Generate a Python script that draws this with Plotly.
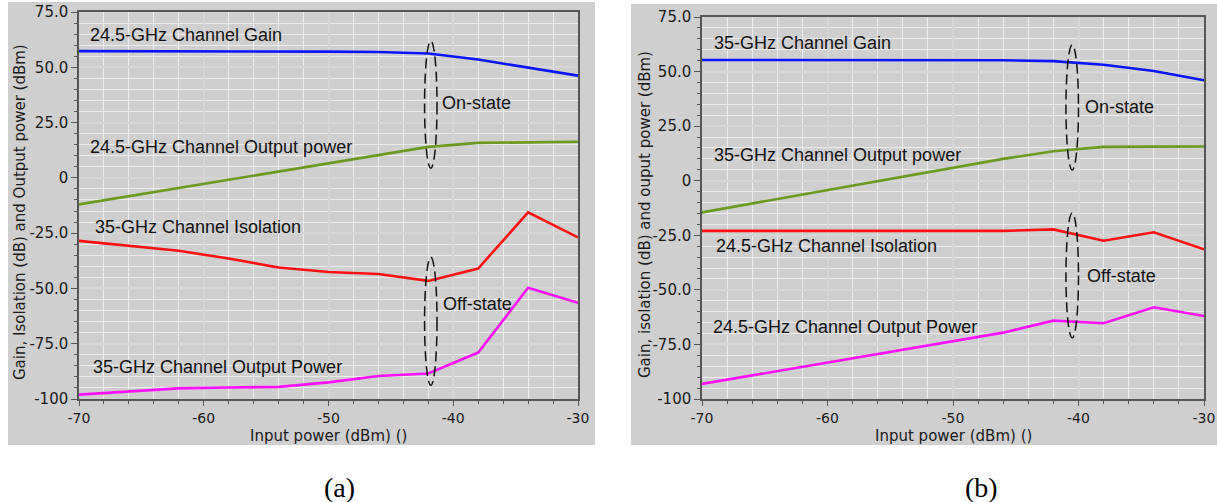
import plotly.graph_objects as go

# Input power sweep (dBm)
input_power = [-70, -66, -62, -58, -54, -50, -46, -42, -38, -34, -30]

# (a) 24.5-GHz channel on, 35-GHz channel off
a_gain = [57.3, 57.3, 57.3, 57.3, 57.2, 57.1, 56.9, 56.2, 53.5, 50.0, 46.2]
a_output = [-12.0, -8.3, -4.6, -0.9, 2.9, 6.7, 10.4, 14.0, 15.8, 16.1, 16.3]
a_isolation = [-28.5, -30.6, -33.0, -36.5, -40.5, -42.6, -43.5, -46.6, -41.0, -15.6, -26.9]
a_off_output = [-98.0, -96.5, -95.2, -94.8, -94.5, -92.5, -89.6, -88.5, -79.0, -49.7, -56.5]

# (b) 35-GHz channel on, 24.5-GHz channel off
b_gain = [55.3, 55.3, 55.3, 55.3, 55.3, 55.3, 55.2, 54.8, 53.1, 50.3, 46.0]
b_output = [-14.5, -10.4, -6.3, -2.2, 1.9, 6.0, 10.0, 13.5, 15.5, 15.6, 15.7]
b_isolation = [-23.0, -23.0, -23.0, -23.0, -23.0, -23.0, -23.0, -22.3, -27.5, -23.6, -31.4]
b_off_output = [-93.1, -89.2, -85.3, -81.4, -77.4, -73.4, -69.6, -64.1, -65.3, -58.0, -62.0]

y_tickvals = [75, 50, 25, 0, -25, -50, -75, -100]
y_ticktext = ["75.0", "50.0", "25.0", "0", "-25.0", "-50.0", "-75.0", "-100"]
x_tickvals = [-70, -60, -50, -40, -30]
x_ticktext = ["-70", "-60", "-50", "-40", "-30"]

W, H = 1217, 502
BLUE, GREEN, RED, MAGENTA = "#0a14ff", "#6b9a1e", "#ff1010", "#ff10ff"
LABEL_FONT = dict(family="Liberation Sans", size=18, color="#111")
Y_TICK_FONT = dict(family="DejaVu Sans", size=15, color="#1a1a1a")
X_TICK_FONT = dict(family="DejaVu Sans", size=14, color="#1a1a1a")
TITLE_FONT = dict(family="DejaVu Sans", size=15, color="#1a1a1a")
CAP_FONT = dict(family="Liberation Serif", size=28, color="#000")


def px_x(p):
    return p / W


def px_y(p):
    return 1 - p / H


fig = go.Figure()

panels = [
    ("x", "y", [a_gain, a_output, a_isolation, a_off_output]),
    ("x2", "y2", [b_gain, b_output, b_isolation, b_off_output]),
]
colors = [BLUE, GREEN, RED, MAGENTA]
for xa, ya, series in panels:
    for vals, col in zip(series, colors):
        fig.add_trace(go.Scatter(x=input_power, y=vals, mode="lines",
                                 line=dict(color=col, width=2.6),
                                 xaxis=xa, yaxis=ya, showlegend=False,
                                 hoverinfo="skip"))


def x_axis(domain, anchor):
    return dict(domain=domain, anchor=anchor, range=[-70, -30], automargin=False,
                tickvals=x_tickvals, ticktext=x_ticktext,
                ticks="outside", ticklen=5, tickcolor="#555", tickwidth=1,
                showline=True, linecolor="#555", linewidth=1.5, mirror=True,
                showgrid=True, gridcolor="#d6d6d6", gridwidth=1.5,
                zeroline=False, tickfont=X_TICK_FONT,
                minor=dict(dtick=2, tick0=-70, showgrid=True, gridcolor="#ececec",
                           gridwidth=1, ticks="outside", ticklen=3, tickcolor="#555"))


def y_axis(domain, anchor):
    return dict(domain=domain, anchor=anchor, range=[-100, 75], automargin=False,
                tickvals=y_tickvals, ticktext=y_ticktext,
                ticks="outside", ticklen=6, tickcolor="#555", tickwidth=1,
                showline=True, linecolor="#555", linewidth=1.5, mirror=True,
                showgrid=True, gridcolor="#d6d6d6", gridwidth=1.5,
                zeroline=False, tickfont=Y_TICK_FONT,
                minor=dict(dtick=5, tick0=0, showgrid=True, gridcolor="#ececec",
                           gridwidth=1, ticks="outside", ticklen=3, tickcolor="#555"))


shapes = [
    # gray frames behind each panel
    dict(type="rect", xref="paper", yref="paper", x0=px_x(8), x1=px_x(595),
         y0=px_y(445), y1=px_y(2), fillcolor="#cfcfcf", line=dict(width=0), layer="below"),
    dict(type="rect", xref="paper", yref="paper", x0=px_x(631), x1=px_x(1217),
         y0=px_y(445), y1=px_y(4), fillcolor="#cfcfcf", line=dict(width=0), layer="below"),
]

# dashed ellipses grouping on-state and off-state curves
ellipses = [
    ("x", "y", -42.3, -41.3, 4.4, 61.9),
    ("x", "y", -42.3, -41.3, -93.8, -35.9),
    ("x2", "y2", -41.0, -40.0, 4.9, 62.2),
    ("x2", "y2", -41.0, -40.0, -72.0, -14.8),
]
for xr, yr, x0, x1, y0, y1 in ellipses:
    shapes.append(dict(type="circle", xref=xr, yref=yr, x0=x0, x1=x1, y0=y0, y1=y1,
                       line=dict(color="#111", width=1.5, dash="10px,5px")))

labels = [
    ("x", "y", -69.3, 64.6, "24.5-GHz Channel Gain"),
    ("x", "y", -69.3, 13.9, "24.5-GHz Channel Output power"),
    ("x", "y", -68.9, -22.3, "35-GHz Channel Isolation"),
    ("x", "y", -69.05, -85.6, "35-GHz Channel Output Power"),
    ("x", "y", -41.1, 33.8, "On-state"),
    ("x", "y", -41.0, -57.1, "Off-state"),
    ("x2", "y2", -69.2, 63.1, "35-GHz Channel Gain"),
    ("x2", "y2", -69.2, 11.8, "35-GHz Channel Output power"),
    ("x2", "y2", -69.05, -29.9, "24.5-GHz Channel Isolation"),
    ("x2", "y2", -69.3, -67.0, "24.5-GHz Channel Output Power"),
    ("x2", "y2", -39.65, 33.8, "On-state"),
    ("x2", "y2", -39.5, -43.6, "Off-state"),
]
annotations = []
for xr, yr, x, y, t in labels:
    annotations.append(dict(xref=xr, yref=yr, x=x, y=y, text=t, showarrow=False,
                            xanchor="left", yanchor="middle", font=LABEL_FONT))

# axis titles
annotations += [
    dict(xref="paper", yref="paper", x=px_x(20), y=px_y(212), textangle=-90,
         text="Gain, Isolation (dB) and Output power (dBm)", showarrow=False,
         xanchor="center", yanchor="middle", font=TITLE_FONT),
    dict(xref="paper", yref="paper", x=px_x(645), y=px_y(215), textangle=-90,
         text="Gain, isolation (dB) and ouput power (dBm)", showarrow=False,
         xanchor="center", yanchor="middle", font=TITLE_FONT),
    dict(xref="paper", yref="paper", x=px_x(328), y=px_y(436),
         text="Input power (dBm) ()", showarrow=False,
         xanchor="center", yanchor="middle", font=TITLE_FONT),
    dict(xref="paper", yref="paper", x=px_x(953), y=px_y(436),
         text="Input power (dBm) ()", showarrow=False,
         xanchor="center", yanchor="middle", font=TITLE_FONT),
]

# panel captions
annotations += [
    dict(xref="paper", yref="paper", x=px_x(339), y=px_y(487), text="(a)",
         showarrow=False, xanchor="center", yanchor="middle", font=CAP_FONT),
    dict(xref="paper", yref="paper", x=px_x(981), y=px_y(487), text="(b)",
         showarrow=False, xanchor="center", yanchor="middle", font=CAP_FONT),
]

fig.update_layout(
    width=W, height=H,
    margin=dict(l=0, r=0, t=0, b=0, autoexpand=False),
    paper_bgcolor="white", plot_bgcolor="white",
    xaxis=x_axis([px_x(79), px_x(578)], "y"),
    yaxis=y_axis([px_y(399), px_y(12)], "x"),
    xaxis2=x_axis([px_x(702), px_x(1204)], "y2"),
    yaxis2=y_axis([px_y(399), px_y(17)], "x2"),
    shapes=shapes,
    annotations=annotations,
    showlegend=False,
)

fig.write_html("out.html")
